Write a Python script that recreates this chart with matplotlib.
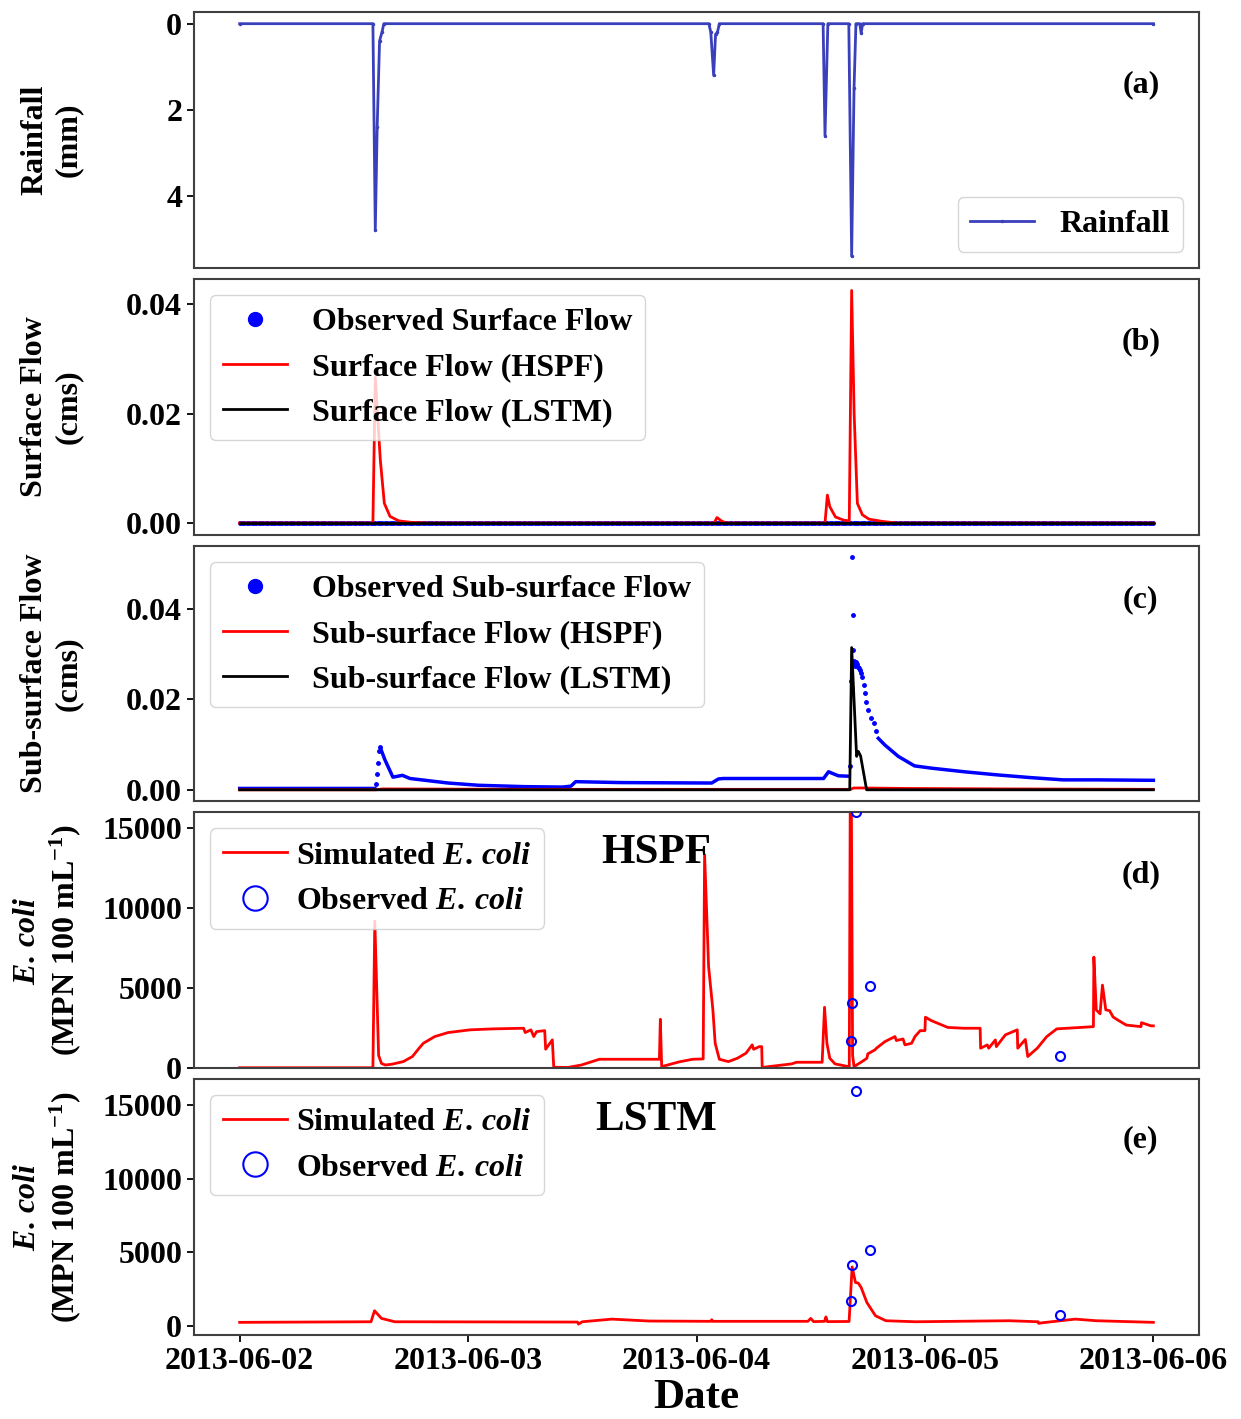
import numpy as np
import pandas as pd
import matplotlib
matplotlib.use('Agg')
import matplotlib.pyplot as plt
import matplotlib.dates as mdates
from matplotlib.ticker import MultipleLocator, FormatStrFormatter

plt.rcParams.update({
    'font.family': 'Liberation Serif',
    'font.weight': 'bold',
    'font.size': 23,
    'axes.labelweight': 'bold',
    'mathtext.fontset': 'custom',
    'mathtext.rm': 'Liberation Serif:bold',
    'mathtext.it': 'Liberation Serif:italic:bold',
    'mathtext.bf': 'Liberation Serif:bold',
})

START = pd.Timestamp('2013-06-02')

# --- data: hours after 2013-06-02 00:00 and values ---
rain_h = [0, 14.0, 14.25, 14.45, 14.7, 14.95, 15.15, 49.3, 49.5, 49.8, 50.0, 50.2, 50.4,
          61.3, 61.5, 61.8, 64.0, 64.3, 64.55, 64.75, 65.15, 65.3, 65.45, 96]
rain_mm = [0, 0, 4.8, 2.4, 0.4, 0.2, 0, 0, 0.2, 1.2, 0.25, 0.2, 0,
           0, 2.6, 0, 0, 5.4, 1.5, 0, 0, 0.22, 0, 0]

# surface flow (cms)
sf_hspf_h = [0, 14.0, 14.25, 14.78, 15.2, 15.8, 16.7, 18.1, 20, 49.85, 50.15, 50.6, 51.1,
             61.5, 61.75, 62.0, 62.6, 63.5, 64.05, 64.3, 64.56, 64.9, 65.43, 66.13, 67.5, 69, 96]
sf_hspf = [0, 0, 0.0266, 0.0115, 0.0036, 0.0012, 0.0004, 0.0001, 0, 0, 0.001, 0.0004, 0,
           0, 0.0051, 0.003, 0.0011, 0.0005, 0.0004, 0.0425, 0.02, 0.0036, 0.0015, 0.0007, 0.0003, 0, 0]
sf_lstm_h = [0, 96]
sf_lstm = [0, 0]
obs_sf_time = pd.date_range('2013-06-02 00:00', '2013-06-06 00:00', freq='15min')
obs_sf = np.zeros(len(obs_sf_time))

# sub-surface flow (cms)
obs_ss_trace_h = [0, 14.2, np.nan, 14.8, 15.27, 16.1, 16.6, 17.1, 17.9, 21.9, 25.1, 29.9, 33.9, 34.8,
                  35.3, 40, 49.6, 50.3, 50.8, 56.7, 61.35, 61.87, 62.2, 62.9, 64.05, np.nan,
                  67.1, 67.8, 69.2, 70.9, 72.65, 76.1, 79.6, 83.1, 86.5, 90, 96]
obs_ss_trace = [0.0003, 0.0003, np.nan, 0.0092, 0.0066, 0.0028, 0.003, 0.0032, 0.0025, 0.0015, 0.001,
                0.0007, 0.0006, 0.0008, 0.0018, 0.0016, 0.0015, 0.0024, 0.0025, 0.0025, 0.0025,
                0.004, 0.0037, 0.0031, 0.003, np.nan,
                0.0114, 0.0099, 0.0074, 0.0053, 0.0048, 0.004, 0.0033, 0.0027, 0.0022, 0.0022, 0.0021]
obs_ss_dots_h = [14.35, 14.45, 14.55, 14.62, 14.7, 64.12, 64.2, 64.3, 64.4, 64.45, 64.5, 64.6,
                 64.7, 64.8, 64.9, 65.0, 65.1, 65.2, 65.3, 65.4, 65.55, 65.7, 65.85, 66.0,
                 66.3, 66.6, 66.85]
obs_ss_dots = [0.0012, 0.0035, 0.006, 0.0085, 0.0095, 0.0052, 0.024, 0.0515, 0.0387, 0.031,
               0.0285, 0.0275, 0.028, 0.0283, 0.0278, 0.0272, 0.027, 0.0265, 0.0258, 0.025,
               0.0232, 0.0214, 0.0195, 0.0177, 0.016, 0.0147, 0.013]
ss_hspf_h = [0, 14.3, 15, 30, 64.2, 64.5, 65.5, 70, 80, 96]
ss_hspf = [0, 0, 0.0002, 0.0001, 0.0001, 0.0004, 0.0004, 0.0003, 0.0002, 0.0001]
ss_lstm_h = [0, 64.1, 64.3, 64.82, 65.0, 65.24, 65.87, 96]
ss_lstm = [0, 0, 0.0315, 0.0074, 0.0085, 0.0075, 0, 0]

# E. coli (MPN/100 mL)
ec_hspf_h = [0, 14.0, 14.2, 14.6, 14.9, 15.3, 16.0, 17.2, 18.15, 18.85, 19.3, 20.5, 21.9, 24.2,
             26.6, 29.84, 30.0, 30.6, 30.9, 31.2, 32.05, 32.15, 32.85, 33.0, 34.5, 35.9, 37.8,
             44.1, 44.2, 44.34, 46.2, 47.6, 48.7, 48.85, 49.27, 49.72, 49.96, 50.4, 51.35, 52.3,
             53.2, 53.85, 54.0, 54.6, 54.85, 54.9, 58.0, 58.5, 61.2, 61.45, 61.7, 62.0, 62.55,
             63.95, 64.05, 64.2, 64.4, 64.55, 65.35, 65.9, 66.0, 66.74, 66.9, 67.8, 68.5, 68.85,
             69.0, 69.7, 69.9, 70.6, 70.95, 71.5, 72.0, 72.05, 72.66, 74.4, 76.1, 77.8, 77.85,
             78.55, 78.7, 79.4, 79.5, 80.45, 81.7, 81.75, 82.55, 82.8, 83.8, 84.8, 85.85, 89.7,
             89.75, 90.0, 90.4, 90.65, 91.0, 91.4, 91.76, 92.3, 93.15, 94.7, 94.75, 95.75, 96]
ec_hspf = [30, 30, 9200, 800, 300, 200, 250, 415, 730, 1250, 1560, 1980, 2230, 2400,
           2460, 2500, 2230, 2400, 1980, 2290, 2350, 1190, 1770, 60, 50, 200, 560,
           560, 3060, 100, 400, 560, 580, 13350, 6350, 3650, 1560, 560, 414, 625,
           940, 1460, 1185, 1350, 1350, 50, 270, 372, 372, 3810, 1560, 625, 270,
           100, 100, 25000, 800, 100, 400, 620, 900, 1145, 1250, 1665, 1875, 1980,
           1730, 1830, 1460, 1560, 1980, 2350, 2350, 3190, 2980, 2550, 2500, 2500, 1250,
           1460, 1250, 1770, 1350, 2085, 2400, 1250, 1800, 730, 1250, 1980, 2460, 2600,
           6950, 3650, 3400, 5200, 3650, 3600, 3210, 3000, 2700, 2600, 2850, 2650, 2650]
ec_lstm_h = [0, 13.8, 14.17, 14.9, 16.3, 35.5, 35.6, 36.0, 39.1, 43.0, 49.5, 49.6, 49.7,
             59.7, 60.0, 60.3, 61.45, 61.6, 61.75, 64.03, 64.35, 64.7, 65.0, 65.3, 65.9,
             66.8, 67.9, 71.0, 80.85, 83.9, 83.95, 84.3, 87.8, 90.0, 96]
ec_lstm = [230, 270, 1020, 500, 270, 250, 112, 270, 450, 320, 300, 410, 300,
           300, 500, 280, 300, 600, 280, 290, 4000, 2940, 2900, 2600, 1580,
           680, 340, 270, 340, 270, 160, 200, 450, 340, 230]
obs_ec_h = [64.28, 64.38, 64.71, 66.2, 86.2]
obs_ec = [1700, 4100, 16000, 5150, 740]


def t(hours):
    return START + pd.to_timedelta(np.asarray(hours, dtype=float), unit='h')


fig, axes = plt.subplots(5, 1, figsize=(12.41, 14.19), dpi=100, sharex=True)
fig.subplots_adjust(left=0.1563, right=0.9662, top=0.9915, bottom=0.0592, hspace=0.043)
ax_a, ax_b, ax_c, ax_d, ax_e = axes

# (a) rainfall
ax_a.plot(t(rain_h), rain_mm, color='#3a40bb', lw=2, marker='.', ms=3, label='Rainfall')
ax_a.invert_yaxis()
ax_a.yaxis.set_major_locator(MultipleLocator(2))
ax_a.set_ylabel('Rainfall\n(mm)')
ax_a.legend(loc='lower right')

# (b) surface flow
ax_b.plot(obs_sf_time, obs_sf, 'o', color='blue', ms=2.5, label='Observed Surface Flow')
ax_b.plot(t(sf_hspf_h), sf_hspf, color='red', lw=2, label='Surface Flow (HSPF)')
ax_b.plot(t(sf_lstm_h), sf_lstm, color='black', lw=2, label='Surface Flow (LSTM)')
ax_b.yaxis.set_major_locator(MultipleLocator(0.02))
ax_b.yaxis.set_major_formatter(FormatStrFormatter('%.2f'))
ax_b.set_ylabel('Surface Flow\n(cms)')
ax_b.legend(loc='upper left', markerscale=4)

# (c) sub-surface flow
ax_c.plot(t(obs_ss_trace_h), obs_ss_trace, color='blue', lw=2.5)
ax_c.plot(t(obs_ss_dots_h), obs_ss_dots, 'o', color='blue', ms=2.5, label='Observed Sub-surface Flow')
ax_c.plot(t(ss_hspf_h), ss_hspf, color='red', lw=2, label='Sub-surface Flow (HSPF)')
ax_c.plot(t(ss_lstm_h), ss_lstm, color='black', lw=2, label='Sub-surface Flow (LSTM)')
ax_c.yaxis.set_major_locator(MultipleLocator(0.02))
ax_c.yaxis.set_major_formatter(FormatStrFormatter('%.2f'))
ax_c.set_ylabel('Sub-surface Flow\n(cms)')
ax_c.legend(loc='upper left', markerscale=4)

# (d) / (e) E. coli
ecoli_label = '$\\mathit{E.\\,coli}$\n(MPN 100 mL$^{-1}$)'
for ax, sim_h, sim, name in [(ax_d, ec_hspf_h, ec_hspf, 'HSPF'), (ax_e, ec_lstm_h, ec_lstm, 'LSTM')]:
    ax.plot(t(sim_h), sim, color='red', lw=2, label='Simulated $\\mathit{E.\\,coli}$')
    ax.plot(t(obs_ec_h), obs_ec, 'o', mfc='none', mec='blue', mew=1.5, ms=6.5,
            label='Observed $\\mathit{E.\\,coli}$', zorder=3)
    ax.yaxis.set_major_locator(MultipleLocator(5000))
    ax.set_ylabel(ecoli_label)
    ax.legend(loc='upper left', markerscale=2.7, handletextpad=0.3)
    ax.text(0.46, 0.84, name, transform=ax.transAxes, fontsize=31, ha='center', va='center')
ax_d.set_ylim(0, 16000)
ax_e.set_ylim(-630, 16770)

for ax, lab, yy in zip(axes, ['(a)', '(b)', '(c)', '(d)', '(e)'], [0.715, 0.753, 0.789, 0.758, 0.762]):
    ax.text(0.942, yy, lab, transform=ax.transAxes, ha='center', va='center')
    for s in ax.spines.values():
        s.set_color('#404040')
        s.set_linewidth(1.5)
    ax.tick_params(width=1.3, length=5)
for ax in axes[:-1]:
    ax.tick_params(axis='x', bottom=False, labelbottom=False)

ax_e.xaxis.set_major_locator(mdates.DayLocator())
ax_e.xaxis.set_major_formatter(mdates.DateFormatter('%Y-%m-%d'))
ax_e.set_xlabel('Date', fontsize=31, labelpad=2)

for ax in axes:
    ax.yaxis.labelpad = 14
fig.align_ylabels(axes)

fig.savefig('out.png', dpi=100)
